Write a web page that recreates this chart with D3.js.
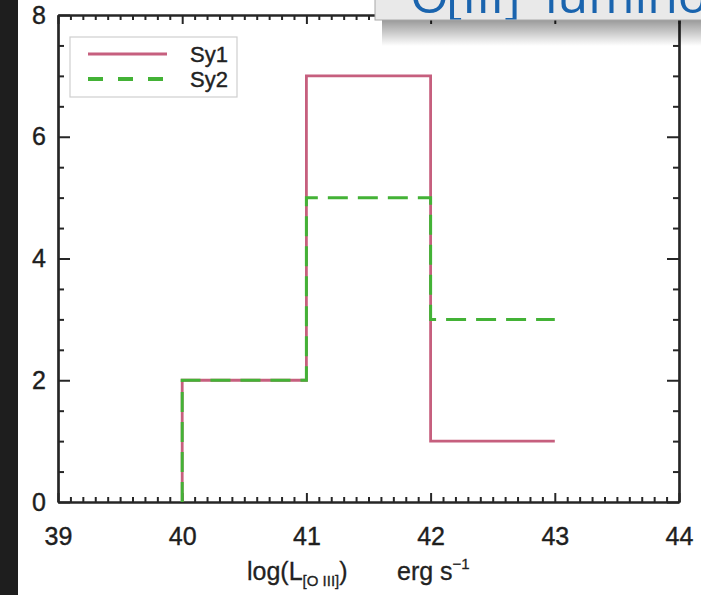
<!DOCTYPE html>
<html><head><meta charset="utf-8">
<script src="https://cdn.jsdelivr.net/npm/d3@7/dist/d3.min.js"></script>
<style>
html,body{margin:0;padding:0;background:#fff;}
svg{display:block;}
</style></head>
<body>
<svg id="c" width="701" height="595"></svg>
<script>
// ---- data ----
const binEdges = [40, 41, 42, 43];
const binEnd = 43;
const sy1 = [2, 7, 1];
const sy2 = [2, 5, 3];
const seriesNames = ["Sy1", "Sy2"];
const xTicks = [39, 40, 41, 42, 43, 44];
const yTicks = [0, 2, 4, 6, 8];
const xMinor = d3.range(390, 441).map(d => d / 10).filter(d => !Number.isInteger(d));
const yMinor = d3.range(0, 17).map(d => d / 2).filter(d => d % 2 !== 0);
const headerParts = ["O", "[III]", "luminosity"];

const svg = d3.select("#c");
const W = 701, H = 595;
const x = d3.scaleLinear().domain([39, 44]).range([58, 679]);
const y = d3.scaleLinear().domain([0, 8]).range([502, 15]);

svg.append("rect").attr("width", W).attr("height", H).attr("fill", "#fff");
// dark strip at the left
svg.append("rect").attr("x", 0).attr("y", 0).attr("width", 18).attr("height", H).attr("fill", "#1e1e1e");

const axisColor = "#262626";
function styleAxis(g) {
  g.selectAll("path.domain").attr("stroke", axisColor).attr("stroke-width", 2.2);
  g.selectAll(".tick line").attr("stroke", axisColor).attr("stroke-width", 2);
  g.selectAll("text").attr("fill", "#1e1e1e").attr("font-family", "Liberation Sans, Arial, sans-serif")
    .attr("font-size", 25).attr("stroke", "#1e1e1e").attr("stroke-width", 0.4);
}

// minor ticks
svg.append("g").attr("transform", `translate(0,${y(0)})`)
  .call(d3.axisBottom(x).tickValues(xMinor).tickSizeInner(-5).tickSizeOuter(0).tickFormat(""))
  .call(styleAxis);
svg.append("g").attr("transform", `translate(0,${y(8)})`)
  .call(d3.axisTop(x).tickValues(xMinor).tickSizeInner(-5).tickSizeOuter(0).tickFormat(""))
  .call(styleAxis);
svg.append("g").attr("transform", `translate(${x(39)},0)`)
  .call(d3.axisLeft(y).tickValues(yMinor).tickSizeInner(-6).tickSizeOuter(0).tickFormat(""))
  .call(styleAxis);
svg.append("g").attr("transform", `translate(${x(44)},0)`)
  .call(d3.axisRight(y).tickValues(yMinor).tickSizeInner(-6).tickSizeOuter(0).tickFormat(""))
  .call(styleAxis);

// major ticks
svg.append("g").attr("transform", `translate(0,${y(0)})`)
  .call(d3.axisBottom(x).tickValues(xTicks).tickSizeInner(-9).tickSizeOuter(0).tickPadding(25).tickFormat(d3.format("d")))
  .call(styleAxis);
svg.append("g").attr("transform", `translate(0,${y(8)})`)
  .call(d3.axisTop(x).tickValues(xTicks).tickSizeInner(-9).tickSizeOuter(0).tickFormat(""))
  .call(styleAxis);
svg.append("g").attr("transform", `translate(${x(39)},0)`)
  .call(d3.axisLeft(y).tickValues(yTicks).tickSizeInner(-12).tickSizeOuter(0).tickPadding(12).tickFormat(d3.format("d")))
  .call(styleAxis);
svg.append("g").attr("transform", `translate(${x(44)},0)`)
  .call(d3.axisRight(y).tickValues(yTicks).tickSizeInner(-12).tickSizeOuter(0).tickFormat(""))
  .call(styleAxis);

// histograms
function stepPoints(vals) {
  return [[binEdges[0], 0]].concat(binEdges.map((e, i) => [e, vals[i]])).concat([[binEnd, 0]]);
}
const line = d3.line().x(d => x(d[0])).y(d => y(d[1])).curve(d3.curveStepAfter);
const c1 = "#c65f7e", c2 = "#43b236";
svg.append("path").attr("d", line(stepPoints(sy1))).attr("fill", "none")
  .attr("stroke", c1).attr("stroke-width", 2.8);
svg.append("path").attr("d", line(stepPoints(sy2))).attr("fill", "none")
  .attr("stroke", c2).attr("stroke-width", 3).attr("stroke-dasharray", "20,10");

// legend
const lg = svg.append("g");
lg.append("rect").attr("x", 70).attr("y", 37).attr("width", 167).attr("height", 60)
  .attr("fill", "#fff").attr("stroke", "#cfcfcf").attr("stroke-width", 1.2);
const legendItems = [{name: seriesNames[0], color: c1, dash: null, w: 2.8},
                     {name: seriesNames[1], color: c2, dash: "15,15", w: 3.8}];
legendItems.forEach((it, i) => {
  const yy = 54 + i * 25;
  lg.append("line").attr("x1", 88).attr("x2", 167).attr("y1", yy).attr("y2", yy)
    .attr("stroke", it.color).attr("stroke-width", it.w).attr("stroke-dasharray", it.dash);
  lg.append("text").attr("x", 190).attr("y", yy).attr("dy", "0.35em")
    .attr("font-family", "Liberation Sans Narrow, Arial Narrow, sans-serif").attr("font-size", 22)
    .attr("fill", "#222").attr("stroke", "#222").attr("stroke-width", 0.4).text(it.name);
});

// x-axis title
const t = svg.append("text").attr("x", 247).attr("y", 580)
  .attr("font-family", "Liberation Sans Narrow, Arial Narrow, sans-serif").attr("font-size", 25)
  .attr("fill", "#222").attr("stroke", "#222").attr("stroke-width", 0.3);
t.append("tspan").text("log(L");
t.append("tspan").attr("font-size", 15).attr("dy", 6).text("[O III]");
t.append("tspan").attr("dy", -6).text(")");
t.append("tspan").attr("x", 397).text("erg  s");
t.append("tspan").attr("font-size", 15).attr("dy", -11).text("\u22121");

// header overlay box
const defs = svg.append("defs");
const grad = defs.append("linearGradient").attr("id", "sh").attr("x1", 0).attr("x2", 0).attr("y1", 0).attr("y2", 1);
grad.append("stop").attr("offset", "0%").attr("stop-color", "#000").attr("stop-opacity", 0.4);
grad.append("stop").attr("offset", "100%").attr("stop-color", "#000").attr("stop-opacity", 0);
svg.append("rect").attr("x", 382).attr("y", 20).attr("width", 330).attr("height", 26).attr("fill", "url(#sh)");
defs.append("clipPath").attr("id", "hb").append("rect").attr("x", 375).attr("y", 0).attr("width", 330).attr("height", 19.5);
svg.append("rect").attr("x", 375).attr("y", -2).attr("width", 330).attr("height", 22)
  .attr("fill", "#e9e9e9").attr("stroke", "#a8a8a8").attr("stroke-width", 1);
const ht = svg.append("g").attr("clip-path", "url(#hb)").append("text")
  .attr("y", 13).attr("font-family", "Open Sans, sans-serif").attr("font-size", 50)
  .attr("fill", "#1a64ae");
const hx = [410, 446, 545];
headerParts.forEach((p, i) => ht.append("tspan").attr("x", hx[i]).text(p));
</script>
</body></html>
